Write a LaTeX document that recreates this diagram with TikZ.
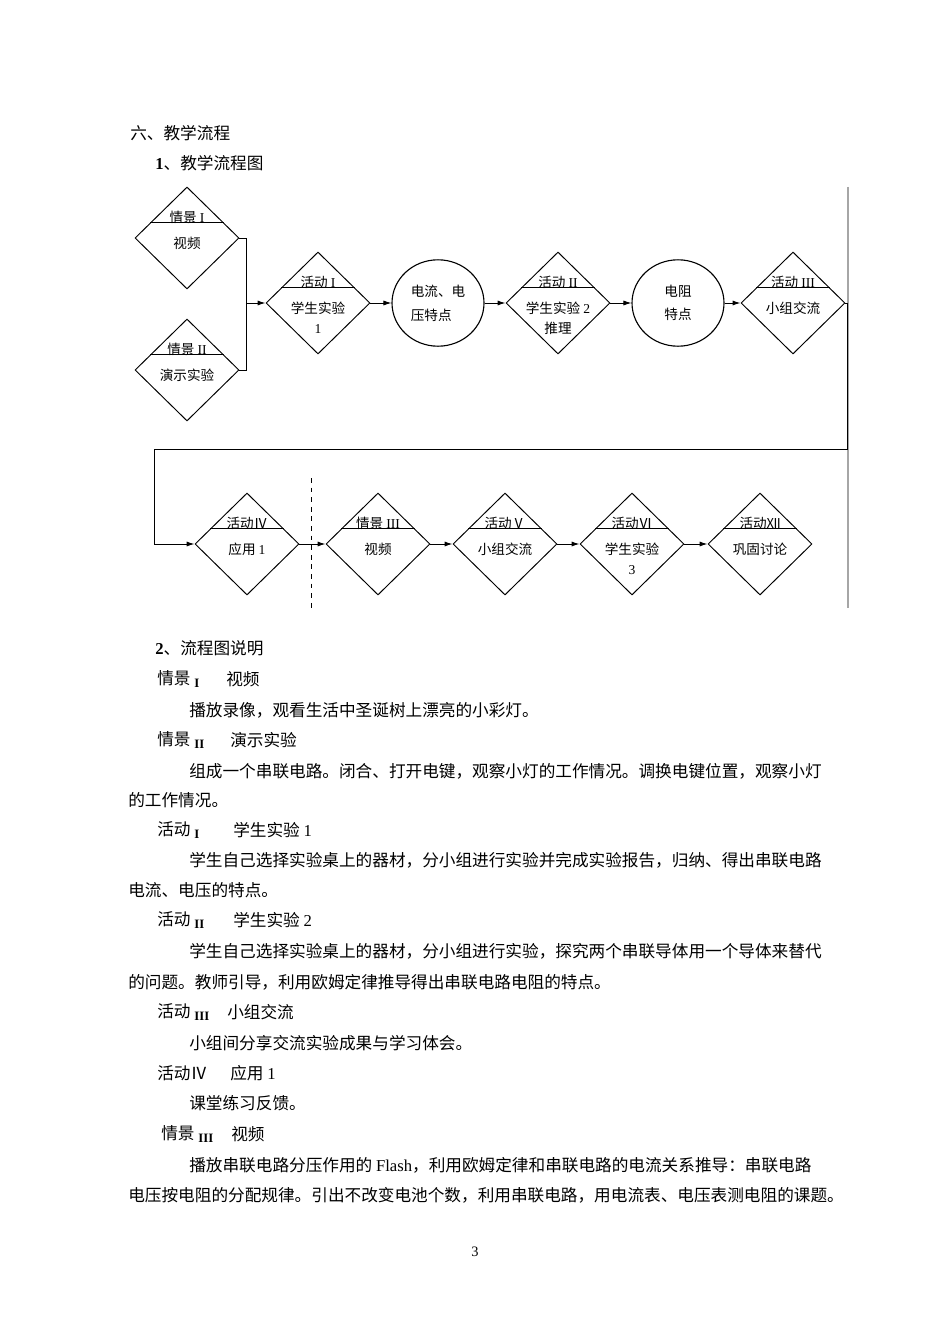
\documentclass[tikz,border=0pt]{standalone}
\usepackage{fontspec}
\setmainfont{Noto Sans CJK SC}
\newfontfamily\lat{Liberation Serif}
\usetikzlibrary{shapes.geometric,arrows.meta,calc}

\newcommand\rmn[1]{\raisebox{-1.5pt}{\lat\bfseries\fontsize{8pt}{8pt}\selectfont #1}}

\tikzset{
	dia/.style={draw,diamond,aspect=1,inner sep=0pt,minimum width=65pt,minimum height=63.75pt,line width=0.6pt},
	circ/.style={draw,ellipse,inner sep=0pt,minimum width=57.5pt,minimum height=54pt,line width=0.7pt,
		font=\fontsize{8.5pt}{14.8pt}\selectfont},
	flow/.style={line width=0.6pt,-{Latex[length=5pt,width=3.2pt]}},
	link/.style={line width=0.6pt},
	divider/.style={line width=0.8pt},
	ttl/.style={font=\fontsize{8.5pt}{10pt}\selectfont,inner sep=0pt},
	cnt/.style={font=\fontsize{8.5pt}{12.5pt}\selectfont,inner sep=0pt,align=center,anchor=north},
	body/.style={font=\fontsize{10.4pt}{12pt}\selectfont,inner sep=0pt,anchor=west},
}

\begin{document}
\begin{tikzpicture}[x=0.625pt,y=-0.625pt]
	\fill[white] (0,0) rectangle (950,1344);
	\useasboundingbox (0,0) rectangle (950,1344);

	% headings
	\node[body] (h6) at (130,133) {六、教学流程};
	\node[body] (h1) at (155,163) {{\lat\bfseries 1}、教学流程图};

	% diamonds
	\foreach \nm/\x/\y/\t/\c in {
		sit1/187/238/{情景 {\lat I}}/{视频},
		sit2/187/370/{情景 {\lat II}}/{演示实验},
		act1/318/303/{活动 {\lat I}}/{学生实验\\{\lat 1}},
		act2/558/303/{活动 {\lat II}}/{学生实验 {\lat 2}\\推理},
		act3/793/303/{活动 {\lat III}}/{小组交流},
		act4/247/544/{活动Ⅳ}/{应用 {\lat 1}},
		sit3/378/544/{情景 {\lat III}}/{视频},
		act5/505/544/{活动Ⅴ}/{小组交流},
		act6/632/544/{活动Ⅵ}/{学生实验\\{\lat 3}},
		act12/760/544/{活动Ⅻ}/{巩固讨论}}
	{
		\node[dia] (\nm) at (\x,\y) {};
		\node[ttl] (\nm-t) at ([yshift=13pt]\nm.center) {\t};
		\draw[divider] ($(\nm.west)!0.3!(\nm.north)$) -- ($(\nm.east)!0.3!(\nm.north)$);
		\node[cnt] (\nm-c) at ([yshift=1pt]\nm.center) {\c};
	}

	% circles
	\node[circ,align=left] (uv) at (438,303) {电流、电\\压特点};
	\node[circ,align=center] (rr) at (678,303) {电阻\\特点};

	% frame edge and separator
	\draw[gray!70,line width=1.2pt] (848,187) -- (848,608);
	\draw[dashed,line width=0.6pt] (311,478) -- (311,608);

	% connectors
	\coordinate (join) at (246,303);
	\coordinate (bendR) at (847,449);
	\coordinate (bendL) at (154,449);
	\draw[link] (sit1.east) -| (join);
	\draw[link] (sit2.east) -| (join);
	\draw[flow] (join) -- (act1.west);
	\draw[flow] (act1.east) -- (uv.west);
	\draw[flow] (uv.east) -- (act2.west);
	\draw[flow] (act2.east) -- (rr.west);
	\draw[flow] (rr.east) -- (act3.west);
	\draw[flow] (act3.east) -| (bendR) -- (bendL) |- (act4.west);
	\draw[flow] (act4.east) -- (sit3.west);
	\draw[flow] (sit3.east) -- (act5.west);
	\draw[flow] (act5.east) -- (act6.west);
	\draw[flow] (act6.east) -- (act12.west);

	% explanation
	\node[body] (h2) at (155,648) {{\lat\bfseries 2}、流程图说明};
	\foreach \y/\x/\l/\xx/\r in {
		679/157/{情景 \rmn{I}}/226/{视频},
		740/157/{情景 \rmn{II}}/230/{演示实验},
		830/157/{活动 \rmn{I}}/233/{学生实验 {\lat 1}},
		920/157/{活动 \rmn{II}}/233/{学生实验 {\lat 2}},
		1012/157/{活动 \rmn{III}}/227/{小组交流},
		1073/157/{活动Ⅳ}/230/{应用 {\lat 1}},
		1134/161/{情景 \rmn{III}}/231/{视频}}
	{
		\node[body] (k\y) at (\x,\y) {\l};
		\node[body] (t\y) at (\xx,\y) {\r};
	}
	\foreach \y/\x/\t in {
		710/189/{播放录像，观看生活中圣诞树上漂亮的小彩灯。},
		771/189/{组成一个串联电路。闭合、打开电键，观察小灯的工作情况。调换电键位置，观察小灯},
		800/128/{的工作情况。},
		860/189/{学生自己选择实验桌上的器材，分小组进行实验并完成实验报告，归纳、得出串联电路},
		890/128/{电流、电压的特点。},
		951/189/{学生自己选择实验桌上的器材，分小组进行实验，探究两个串联导体用一个导体来替代},
		982/128/{的问题。教师引导，利用欧姆定律推导得出串联电路电阻的特点。},
		1043/189/{小组间分享交流实验成果与学习体会。},
		1103/189/{课堂练习反馈。},
		1165/189/{播放串联电路分压作用的 {\lat Flash}，利用欧姆定律和串联电路的电流关系推导：串联电路},
		1195/128/{电压按电阻的分配规律。引出不改变电池个数，利用串联电路，用电流表、电压表测电阻的课题。}}
	{
		\node[body] (p\y) at (\x,\y) {\t};
	}

	\node[font=\lat\fontsize{9pt}{10pt}\selectfont,inner sep=0pt] (pg) at (475,1252) {3};
\end{tikzpicture}
\end{document}
